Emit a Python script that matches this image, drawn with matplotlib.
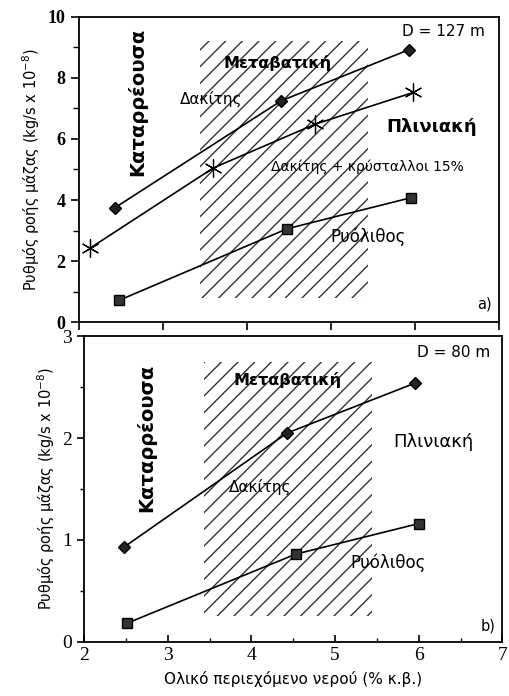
import matplotlib.pyplot as plt
from matplotlib.patches import Rectangle
from matplotlib.ticker import MultipleLocator

# --- δεδομένα (ανάγνωση από το σχήμα) ---
dak_a_x = [2.43, 4.41, 5.93]
dak_a_y = [3.75, 7.25, 8.92]
kryst_a_x = [2.13, 3.60, 4.81, 5.98]
kryst_a_y = [2.42, 5.05, 6.48, 7.52]
ryol_a_x = [2.48, 4.48, 5.96]
ryol_a_y = [0.72, 3.06, 4.08]

dak_b_x = [2.48, 4.43, 5.96]
dak_b_y = [0.93, 2.05, 2.54]
ryol_b_x = [2.51, 4.53, 6.00]
ryol_b_y = [0.18, 0.86, 1.16]

xticks = [2, 3, 4, 5, 6, 7]
yticks_a = [0, 2, 4, 6, 8, 10]
yticks_b = [0, 1, 2, 3]

ylabel = "Ρυθμός ροής μάζας (kg/s x 10$^{-8}$)"
xlabel = "Ολικό περιεχόμενο νερού (% κ.β.)"

plt.rcParams['font.family'] = ['DejaVu Sans']
bold_num = dict(family='Liberation Serif', weight='bold', size=13)
reg_num = dict(family='Liberation Serif', size=14)

fig = plt.figure(figsize=(5.09, 6.96), dpi=100)
ax1 = fig.add_axes([0.155, 0.537, 0.825, 0.439])
ax2 = fig.add_axes([0.165, 0.078, 0.822, 0.439])

for ax in (ax1, ax2):
    ax.set_xlim(2, 7)
    ax.set_xticks(xticks)
    for s in ax.spines.values():
        s.set_linewidth(1.3)

# --- πάνω διάγραμμα a) ---
ax1.add_patch(Rectangle((3.44, 0.8), 2.0, 8.4, fill=False, hatch='//',
                        edgecolor='#333333', linewidth=0))
ax1.plot(dak_a_x, dak_a_y, color='black', lw=1.2, marker='D', ms=6,
         mfc='#222222', mec='black')
ax1.plot(kryst_a_x, kryst_a_y, color='black', lw=1.2, marker=(6, 2, 0), ms=13,
         mew=0.9)
ax1.plot(ryol_a_x, ryol_a_y, color='black', lw=1.2, marker='s', ms=7,
         mfc='#333333', mec='black')
ax1.set_ylim(0, 10)
ax1.set_yticks(yticks_a)
ax1.yaxis.set_minor_locator(MultipleLocator(1))
ax1.set_yticklabels([str(v) for v in yticks_a], fontdict=bold_num)
ax1.set_xticklabels([])
ax1.tick_params(which='major', length=6, width=1.2)
ax1.tick_params(which='minor', length=4, width=1.0)
ax1.set_ylabel(ylabel, fontsize=10.5, labelpad=4)

ax1.text(6.83, 9.5, "D = 127 m", ha='right', va='center', fontsize=11)
ax1.text(2.69, 7.2, "Καταρρέουσα", rotation=90, ha='center', va='center',
         fontsize=14, fontweight='bold')
ax1.text(4.36, 8.5, "Μεταβατική", ha='center', va='center', fontsize=11.5,
         fontweight='bold')
ax1.text(3.57, 7.3, "Δακίτης", ha='center', va='center', fontsize=11)
ax1.text(6.2, 6.4, "Πλινιακή", ha='center', va='center', fontsize=13,
         fontweight='bold')
ax1.text(5.44, 5.1, "Δακίτης + κρύσταλλοι 15%", ha='center', va='center',
         fontsize=10)
ax1.text(5.44, 2.8, "Ρυόλιθος", ha='center', va='center', fontsize=12)
ax1.text(6.92, 0.6, "a)", ha='right', va='center', fontsize=10.5)

# --- κάτω διάγραμμα b) ---
ax2.add_patch(Rectangle((3.44, 0.25), 2.0, 2.5, fill=False, hatch='//',
                        edgecolor='#333333', linewidth=0))
ax2.plot(dak_b_x, dak_b_y, color='black', lw=1.2, marker='D', ms=6,
         mfc='#222222', mec='black')
ax2.plot(ryol_b_x, ryol_b_y, color='black', lw=1.2, marker='s', ms=7,
         mfc='#333333', mec='black')
ax2.set_ylim(0, 3)
ax2.set_yticks(yticks_b)
ax2.yaxis.set_minor_locator(MultipleLocator(0.5))
ax2.xaxis.set_minor_locator(MultipleLocator(0.5))
ax2.set_yticklabels([str(v) for v in yticks_b], fontdict=reg_num)
ax2.set_xticklabels([str(v) for v in xticks], fontdict=reg_num)
ax2.tick_params(axis='x', which='both', direction='in')
ax2.tick_params(which='major', length=5, width=1.2)
ax2.tick_params(which='minor', length=3, width=1.0)
ax2.set_ylabel(ylabel, fontsize=10.5, labelpad=4)
ax2.set_xlabel(xlabel, fontsize=11, labelpad=5)

ax2.text(6.86, 2.84, "D = 80 m", ha='right', va='center', fontsize=11)
ax2.text(2.75, 2.0, "Καταρρέουσα", rotation=90, ha='center', va='center',
         fontsize=14, fontweight='bold')
ax2.text(4.43, 2.57, "Μεταβατική", ha='center', va='center', fontsize=11.5,
         fontweight='bold')
ax2.text(6.18, 1.96, "Πλινιακή", ha='center', va='center', fontsize=13)
ax2.text(4.1, 1.52, "Δακίτης", ha='center', va='center', fontsize=11)
ax2.text(5.63, 0.78, "Ρυόλιθος", ha='center', va='center', fontsize=12)
ax2.text(6.92, 0.15, "b)", ha='right', va='center', fontsize=10.5)

fig.savefig("out.png", dpi=100)
